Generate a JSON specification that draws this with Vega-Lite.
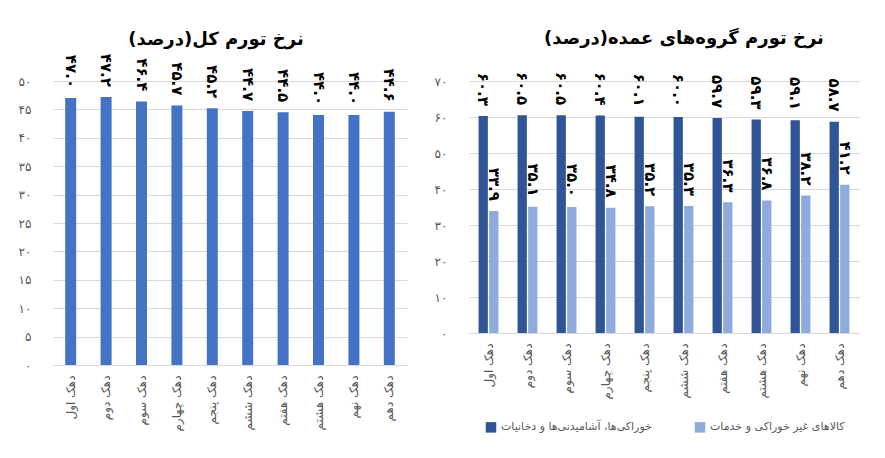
{
  "$schema": "https://vega.github.io/schema/vega-lite/v6.json",
  "background": "white",
  "padding": {"left": 18, "top": 30, "right": 10, "bottom": 5},
  "config": {
    "locale": {"number": {"decimal": ".", "thousands": ",", "grouping": [3], "currency": ["", ""], "numerals": ["۰","۱","۲","۳","۴","۵","۶","۷","۸","۹"]}},
    "font": "DejaVu Sans",
    "view": {"stroke": null},
    "axis": {"labelColor": "#595959", "labelFontSize": 12, "gridColor": "#D9D9D9", "domain": false, "ticks": false, "title": null},
    "concat": {"spacing": 27},
    "title": {"fontSize": 18, "fontWeight": "bold", "color": "#000000", "font": "DejaVu Sans"}
  },
  "resolve": {"legend": {"color": "independent"}},
  "datasets": {
    "total": [
      {"decile": "دهک اول", "value": 47.0},
      {"decile": "دهک دوم", "value": 47.2},
      {"decile": "دهک سوم", "value": 46.4},
      {"decile": "دهک چهارم", "value": 45.7},
      {"decile": "دهک پنجم", "value": 45.2},
      {"decile": "دهک ششم", "value": 44.7},
      {"decile": "دهک هفتم", "value": 44.5},
      {"decile": "دهک هشتم", "value": 44.0},
      {"decile": "دهک نهم", "value": 44.0},
      {"decile": "دهک دهم", "value": 44.6}
    ],
    "groups": [
      {"decile": "دهک اول", "group": "خوراکی‌ها، آشامیدنی‌ها و دخانیات", "value": 60.3},
      {"decile": "دهک اول", "group": "کالاهای غیر خوراکی و خدمات", "value": 33.9},
      {"decile": "دهک دوم", "group": "خوراکی‌ها، آشامیدنی‌ها و دخانیات", "value": 60.5},
      {"decile": "دهک دوم", "group": "کالاهای غیر خوراکی و خدمات", "value": 35.1},
      {"decile": "دهک سوم", "group": "خوراکی‌ها، آشامیدنی‌ها و دخانیات", "value": 60.5},
      {"decile": "دهک سوم", "group": "کالاهای غیر خوراکی و خدمات", "value": 35.0},
      {"decile": "دهک چهارم", "group": "خوراکی‌ها، آشامیدنی‌ها و دخانیات", "value": 60.4},
      {"decile": "دهک چهارم", "group": "کالاهای غیر خوراکی و خدمات", "value": 34.8},
      {"decile": "دهک پنجم", "group": "خوراکی‌ها، آشامیدنی‌ها و دخانیات", "value": 60.1},
      {"decile": "دهک پنجم", "group": "کالاهای غیر خوراکی و خدمات", "value": 35.2},
      {"decile": "دهک ششم", "group": "خوراکی‌ها، آشامیدنی‌ها و دخانیات", "value": 60.0},
      {"decile": "دهک ششم", "group": "کالاهای غیر خوراکی و خدمات", "value": 35.3},
      {"decile": "دهک هفتم", "group": "خوراکی‌ها، آشامیدنی‌ها و دخانیات", "value": 59.7},
      {"decile": "دهک هفتم", "group": "کالاهای غیر خوراکی و خدمات", "value": 36.3},
      {"decile": "دهک هشتم", "group": "خوراکی‌ها، آشامیدنی‌ها و دخانیات", "value": 59.3},
      {"decile": "دهک هشتم", "group": "کالاهای غیر خوراکی و خدمات", "value": 36.8},
      {"decile": "دهک نهم", "group": "خوراکی‌ها، آشامیدنی‌ها و دخانیات", "value": 59.1},
      {"decile": "دهک نهم", "group": "کالاهای غیر خوراکی و خدمات", "value": 38.2},
      {"decile": "دهک دهم", "group": "خوراکی‌ها، آشامیدنی‌ها و دخانیات", "value": 58.7},
      {"decile": "دهک دهم", "group": "کالاهای غیر خوراکی و خدمات", "value": 41.2}
    ]
  },
  "hconcat": [
    {
      "width": 354,
      "height": 284,
      "title": {"text": "نرخ تورم کل(درصد)", "offset": 5, "dx": -14},
      "data": {"name": "total"},
      "encoding": {
        "x": {"field": "decile", "type": "nominal", "sort": null,
              "scale": {"paddingInner": 0.69, "paddingOuter": 0.345},
              "axis": {"labelAngle": -90, "domain": true, "domainColor": "#D9D9D9", "labelPadding": 10}},
        "y": {"field": "value", "type": "quantitative", "scale": {"domain": [0, 50]},
              "axis": {"values": [0, 5, 10, 15, 20, 25, 30, 35, 40, 45, 50], "labelPadding": 22}}
      },
      "layer": [
        {"mark": {"type": "bar", "color": "#4472C4"}},
        {"mark": {"type": "text", "angle": 90, "align": "right", "baseline": "middle", "dx": -10, "fontSize": 15, "fontWeight": "bold", "color": "#000000"},
         "encoding": {"text": {"field": "value", "type": "quantitative", "format": ".1f"}}}
      ]
    },
    {
      "width": 390,
      "height": 252,
      "title": {"text": "نرخ تورم گروه‌های عمده(درصد)", "offset": 24, "dx": 20},
      "data": {"name": "groups"},
      "encoding": {
        "x": {"field": "decile", "type": "nominal", "sort": null,
              "scale": {"paddingInner": 0.49, "paddingOuter": 0.245},
              "axis": {"labelAngle": -90, "domain": true, "domainColor": "#D9D9D9", "labelPadding": 10}},
        "xOffset": {"field": "group", "type": "nominal", "sort": null, "scale": {"paddingInner": 0.12}},
        "y": {"field": "value", "type": "quantitative", "scale": {"domain": [0, 70]},
              "axis": {"values": [0, 10, 20, 30, 40, 50, 60, 70], "labelPadding": 22}}
      },
      "layer": [
        {"mark": {"type": "bar"},
         "encoding": {"color": {"field": "group", "type": "nominal", "sort": null,
           "scale": {"domain": ["خوراکی‌ها، آشامیدنی‌ها و دخانیات", "کالاهای غیر خوراکی و خدمات"], "range": ["#2F5597", "#8FAADC"]},
           "legend": {"orient": "none", "legendX": 16, "legendY": 340, "direction": "horizontal", "title": null, "symbolType": "square", "symbolSize": 110, "labelFontSize": 11, "labelColor": "#595959", "labelLimit": 400, "columnPadding": 42}}}},
        {"mark": {"type": "text", "angle": 90, "align": "right", "baseline": "middle", "dx": -10, "fontSize": 15, "fontWeight": "bold", "color": "#000000"},
         "encoding": {"text": {"field": "value", "type": "quantitative", "format": ".1f"}}}
      ]
    }
  ]
}
